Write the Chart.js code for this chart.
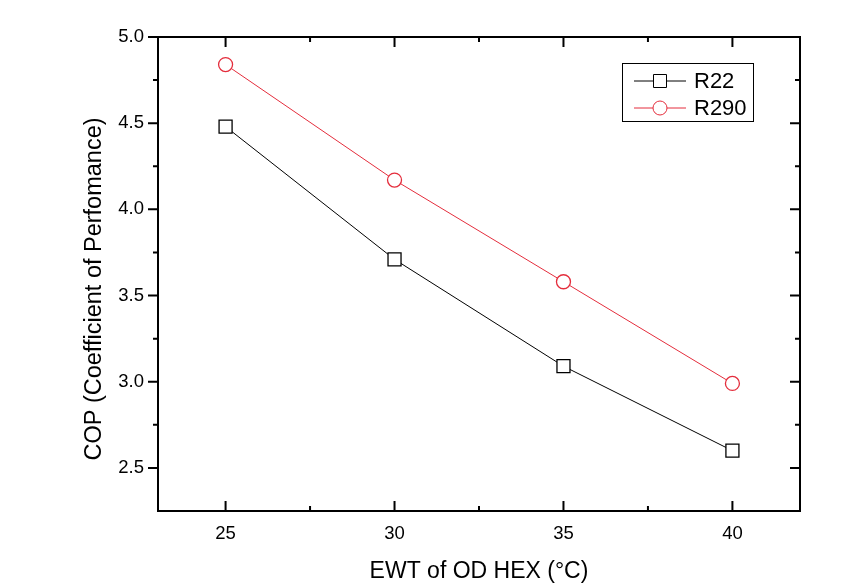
<!DOCTYPE html>
<html>
<head>
<meta charset="utf-8">
<script src="https://cdn.jsdelivr.net/npm/chart.js@4"></script>
<style>
  html, body { margin: 0; padding: 0; background: #fff; }
  #wrap { width: 853px; height: 586px; }
</style>
</head>
<body>
<div id="wrap"><canvas id="chart" width="853" height="586"></canvas></div>
<script>
// data
const ewt = [25, 30, 35, 40];
const copR22 = [4.48, 3.71, 3.09, 2.60];
const copR290 = [4.84, 4.17, 3.58, 2.99];
const xTicks = [25, 30, 35, 40];
const yTicks = [2.5, 3.0, 3.5, 4.0, 4.5, 5.0];

const FONT = "'Liberation Sans', Arial, sans-serif";
const RED = '#e42d3c';

// frame, inward/outward tick marks, y title and legend
const decor = {
    id: 'decor',
    afterDraw(chart) {
        const ctx = chart.ctx;
        const a = chart.chartArea;
        const x = chart.scales.x;
        const y = chart.scales.y;
        ctx.save();
        ctx.strokeStyle = '#000';
        ctx.lineWidth = 2;
        ctx.strokeRect(a.left, a.top, a.right - a.left, a.bottom - a.top);

        ctx.beginPath();
        // x axis: major every 5, minor halfway, inward on bottom and top
        for (let v = 22.5; v <= 42.5; v += 2.5) {
            if (v < x.min || v > x.max) continue;
            const px = x.getPixelForValue(v);
            const len = v % 5 === 0 ? 10 : 5;
            ctx.moveTo(px, a.bottom); ctx.lineTo(px, a.bottom - len);
            ctx.moveTo(px, a.top); ctx.lineTo(px, a.top + len);
        }
        // y axis: outward on left, inward on right
        for (let v = 2.5; v <= 5.0001; v += 0.25) {
            const py = y.getPixelForValue(v);
            const len = Math.abs(v * 2 - Math.round(v * 2)) < 1e-6 ? 10 : 5;
            ctx.moveTo(a.left, py); ctx.lineTo(a.left - len, py);
            ctx.moveTo(a.right, py); ctx.lineTo(a.right - len, py);
        }
        ctx.stroke();

        // y axis title
        ctx.fillStyle = '#000';
        ctx.font = '23.5px ' + FONT;
        ctx.textAlign = 'center';
        ctx.textBaseline = 'middle';
        ctx.translate(95, 289);
        ctx.rotate(-Math.PI / 2);
        ctx.fillText('COP (Coefficient of Perfomance)', 0, 0);
        ctx.restore();

        // legend box
        ctx.save();
        ctx.lineWidth = 1;
        ctx.strokeStyle = '#000';
        ctx.strokeRect(622.5, 63.5, 131, 58);
        const rows = [
            { label: 'R22', color: '#000', shape: 'rect', y: 81 },
            { label: 'R290', color: RED, shape: 'circle', y: 108 }
        ];
        rows.forEach(r => {
            ctx.strokeStyle = r.color;
            ctx.beginPath();
            ctx.moveTo(634, r.y); ctx.lineTo(686, r.y);
            ctx.stroke();
            ctx.fillStyle = '#fff';
            ctx.beginPath();
            if (r.shape === 'rect') ctx.rect(653.5, r.y - 6.5, 13, 13);
            else ctx.arc(660, r.y, 7, 0, Math.PI * 2);
            ctx.fill();
            ctx.stroke();
            ctx.fillStyle = '#000';
            ctx.font = '22px ' + FONT;
            ctx.textAlign = 'left';
            ctx.textBaseline = 'middle';
            ctx.fillText(r.label, 694, r.y + 1);
        });
        ctx.restore();
    }
};

new Chart(document.querySelector('#chart').getContext('2d'), {
    type: 'line',
    data: {
        datasets: [
            {
                label: 'R22',
                data: ewt.map((v, i) => ({ x: v, y: copR22[i] })),
                borderColor: '#000',
                borderWidth: 1,
                pointStyle: 'rect',
                pointRadius: 9.2,
                pointBorderWidth: 1.3,
                pointBackgroundColor: '#fff',
                pointBorderColor: '#000'
            },
            {
                label: 'R290',
                data: ewt.map((v, i) => ({ x: v, y: copR290[i] })),
                borderColor: RED,
                borderWidth: 1,
                pointStyle: 'circle',
                pointRadius: 7,
                pointBorderWidth: 1.3,
                pointBackgroundColor: '#fff',
                pointBorderColor: RED
            }
        ]
    },
    options: {
        responsive: false,
        animation: false,
        layout: { padding: { top: 37, right: 53, left: 0, bottom: 0 } },
        plugins: { legend: { display: false }, tooltip: { enabled: false } },
        scales: {
            x: {
                type: 'linear',
                min: 23,
                max: 42,
                afterBuildTicks: s => { s.ticks = xTicks.map(v => ({ value: v })); },
                afterFit: s => { s.height = 75; },
                grid: { display: false, drawTicks: false },
                border: { display: false },
                ticks: { color: '#000', padding: 12, font: { family: FONT, size: 18.5 } },
                title: {
                    display: true,
                    text: 'EWT of OD HEX (°C)',
                    color: '#000',
                    font: { family: FONT, size: 23 },
                    padding: { top: 0, bottom: 1 }
                }
            },
            y: {
                type: 'linear',
                min: 2.25,
                max: 5.0,
                afterBuildTicks: s => { s.ticks = yTicks.map(v => ({ value: v })); },
                afterFit: s => { s.width = 158; },
                grid: { display: false, drawTicks: false },
                border: { display: false },
                ticks: {
                    color: '#000',
                    padding: 14,
                    font: { family: FONT, size: 18.5 },
                    callback: v => v.toFixed(1)
                }
            }
        }
    },
    plugins: [decor]
});
</script>
</body>
</html>
